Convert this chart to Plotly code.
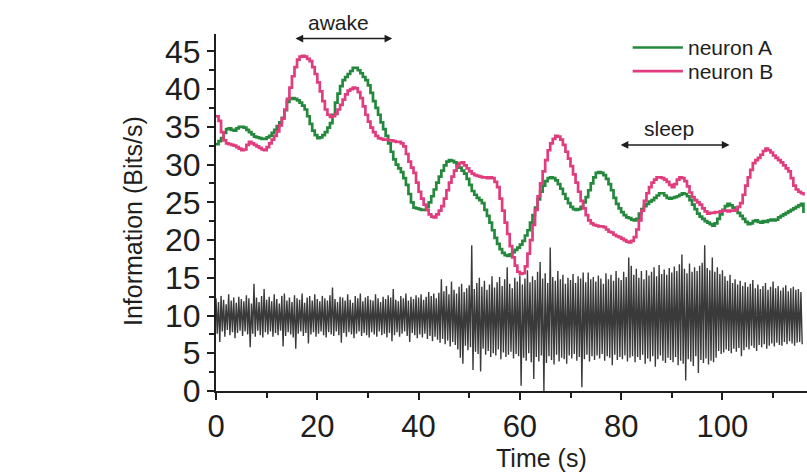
import numpy as np
import plotly.graph_objects as go

# ---- data -------------------------------------------------------------
DT = 0.5  # sampling step of the information traces (s)

neuron_a = [
    32.7, 33.1, 33.5, 34.2, 34.7, 34.8, 34.6, 34.5, 34.8, 35.0,
    35.0, 34.9, 34.6, 34.3, 34.0, 33.7, 33.6, 33.5, 33.4, 33.4,
    33.6, 33.8, 34.2, 34.6, 35.1, 35.6, 36.2, 37.2, 38.3, 38.7,
    38.8, 38.7, 38.5, 38.2, 37.8, 37.3, 36.4, 35.4, 34.5, 33.9,
    33.5, 33.6, 33.9, 34.3, 34.9, 35.5, 36.6, 38.2, 39.4, 40.4,
    41.2, 41.6, 42.0, 42.4, 42.8, 42.8, 42.5, 42.1, 41.6, 41.2,
    40.5, 39.5, 38.4, 37.5, 36.6, 35.6, 34.7, 33.8, 32.8, 31.7,
    30.7, 30.0, 29.5, 29.0, 28.2, 27.3, 26.1, 25.0, 24.3, 24.2,
    24.1, 24.0, 24.0, 24.4, 25.0, 25.8, 26.7, 27.6, 28.4, 29.2,
    29.9, 30.4, 30.6, 30.5, 30.3, 30.0, 29.6, 29.2, 28.8, 28.1,
    27.3, 26.5, 26.0, 25.6, 25.3, 24.9, 24.0, 23.2, 22.3, 21.3,
    20.3, 19.5, 18.8, 18.3, 18.0, 17.9, 18.1, 18.4, 18.7, 19.0,
    19.4, 19.9, 20.6, 21.3, 22.3, 23.3, 24.3, 25.4, 26.4, 27.2,
    27.8, 28.2, 28.3, 28.2, 27.9, 27.4, 26.8, 26.1, 25.5, 24.9,
    24.4, 24.1, 24.0, 24.1, 24.4, 25.0, 25.7, 26.6, 27.5, 28.3,
    28.9, 29.0, 28.9, 28.6, 28.1, 27.4, 26.6, 25.6, 24.8, 24.2,
    23.7, 23.3, 23.0, 22.9, 22.7, 22.6, 22.8, 23.5, 24.1, 24.5,
    24.8, 25.1, 25.3, 25.6, 25.9, 26.2, 26.2, 25.9, 25.6, 25.5,
    25.6, 25.7, 25.8, 26.0, 26.2, 26.1, 25.8, 25.3, 24.7, 24.1,
    23.5, 23.1, 22.8, 22.5, 22.3, 22.1, 21.9, 22.2, 22.8, 23.4,
    24.0, 24.5, 24.8, 24.6, 24.3, 24.0, 23.6, 23.2, 22.8, 22.4,
    22.1, 22.2, 22.5, 22.6, 22.4, 22.3, 22.5, 22.4, 22.6, 22.7,
    22.6, 22.7, 23.0, 23.2, 23.4, 23.6, 23.8, 24.0, 24.2, 24.4,
    24.6, 24.8, 23.6,
]

neuron_b = [
    36.4, 35.8, 34.3, 33.2, 32.8, 32.7, 32.6, 32.5, 32.3, 32.1,
    31.9, 32.0, 32.6, 33.0, 32.8, 32.6, 32.4, 32.2, 32.0, 31.9,
    32.3, 32.8, 33.3, 33.8, 34.4, 35.2, 36.1, 37.3, 38.7, 40.2,
    41.7, 42.9, 43.9, 44.3, 44.4, 44.3, 44.0, 43.7, 42.9, 42.0,
    40.9, 39.7, 38.4, 37.3, 36.6, 36.3, 36.4, 36.7, 37.3, 37.9,
    38.6, 39.3, 39.8, 40.0, 40.2, 40.1, 39.6, 38.8, 37.7, 36.6,
    35.7, 34.9, 34.3, 33.8, 33.5, 33.4, 33.3, 33.3, 33.2, 33.2,
    33.1, 33.0, 33.0, 32.8, 32.4, 31.4, 30.4, 29.6, 28.9, 27.6,
    26.4, 25.5, 24.7, 24.0, 23.4, 23.1, 23.0, 23.4, 23.9, 24.5,
    25.5, 26.6, 27.6, 28.4, 29.2, 29.8, 30.2, 30.3, 29.9, 29.5,
    29.1, 28.8, 28.6, 28.5, 28.4, 28.3, 28.3, 28.2, 28.3, 28.2,
    27.7, 27.0, 25.5, 23.9, 22.3, 20.8, 19.2, 17.7, 16.6, 15.8,
    15.5, 15.6, 16.5, 18.2, 20.0, 22.0, 24.0, 25.8, 27.5, 29.1,
    30.6, 31.9, 32.8, 33.4, 33.8, 33.7, 33.3, 32.6, 31.7, 30.8,
    29.8, 28.7, 27.6, 26.4, 25.2, 24.2, 23.3, 22.6, 22.2, 22.0,
    21.9, 21.8, 21.8, 21.7, 21.4, 21.1, 21.0, 20.7, 20.5, 20.4,
    20.2, 20.0, 19.8, 19.7, 19.9, 20.4, 21.4, 22.6, 23.9, 25.2,
    26.2, 27.0, 27.6, 28.0, 28.3, 28.3, 28.2, 28.0, 27.7, 27.3,
    27.0, 27.4, 28.0, 28.3, 28.2, 27.8, 27.1, 26.3, 25.7, 25.3,
    25.0, 24.7, 24.2, 23.8, 23.5, 23.6, 23.6, 23.7, 23.7, 23.8,
    23.9, 23.9, 23.8, 23.9, 23.9, 24.0, 24.4, 24.9, 26.0, 27.2,
    28.3, 29.3, 30.2, 30.6, 30.9, 31.3, 31.8, 32.1, 31.9, 31.6,
    31.2, 30.9, 30.6, 30.3, 29.9, 29.5, 29.1, 28.2, 27.2, 26.7,
    26.4, 26.2, 25.9,
]

# EEG trace: successive upper / lower excursions every half second
eeg_high = [
    12.3, 11.8, 12.6, 12.1, 11.5, 12.8, 12.0, 12.4, 11.7, 12.5,
    12.2, 11.9, 12.7, 12.3, 11.6, 14.2, 12.4, 11.8, 12.6, 13.5,
    12.1, 12.5, 11.9, 12.8, 12.2, 11.6, 12.6, 12.9, 12.0, 12.4,
    11.8, 12.7, 12.3, 12.1, 12.9, 11.7, 12.4, 12.6, 12.0, 12.8,
    12.2, 11.9, 12.6, 12.3, 12.0, 12.7, 13.7, 12.2, 11.8, 12.5,
    12.4, 12.0, 12.8, 12.1, 11.7, 12.6, 12.3, 12.9, 11.9, 12.4,
    12.6, 12.1, 12.0, 12.8, 12.3, 11.8, 12.5, 12.2, 12.7, 12.4,
    13.5, 12.1, 11.9, 12.6, 12.3, 12.9, 12.0, 12.5, 12.2, 12.7,
    12.4, 12.8, 12.1, 12.5, 13.1, 12.6, 12.9, 12.3, 13.0, 14.8,
    13.2, 13.9, 12.8, 14.5, 13.4, 12.9, 13.8, 14.2, 13.1, 13.6,
    14.0, 19.3, 13.5, 14.3, 15.0, 13.8, 14.6, 13.4, 14.1, 15.2,
    13.7, 14.4, 15.1, 13.9, 14.8, 16.4, 14.2, 13.6, 15.0, 14.5,
    15.3, 14.1, 14.9, 16.0, 14.4, 15.2, 14.7, 15.8, 17.1, 14.9,
    15.6, 14.3, 19.0, 15.1, 14.6, 15.9, 14.8, 15.4, 14.2, 15.0,
    14.7, 15.5, 14.3, 15.2, 14.9, 15.7, 14.4, 15.7, 14.8, 15.1,
    14.5, 15.3, 14.9, 14.2, 15.6, 14.8, 15.4, 14.6, 15.9, 15.0,
    14.7, 15.8, 15.1, 17.7, 16.6, 15.4, 16.2, 15.0, 15.9, 14.8,
    16.0, 15.3, 15.8, 16.4, 15.2, 16.7, 15.5, 16.1, 15.4, 16.3,
    15.7, 16.5, 15.9, 16.8, 18.1, 16.2, 15.6, 16.9, 15.8, 16.4,
    15.9, 16.6, 17.0, 19.3, 16.3, 16.0, 17.7, 15.8, 16.4, 15.5,
    16.0, 15.2, 14.6, 15.4, 14.3, 14.8, 14.1, 14.6, 13.9, 14.4,
    13.8, 14.2, 14.7, 13.6, 14.1, 13.5, 13.9, 14.3, 13.4, 13.8,
    14.5, 13.6, 13.9, 13.3, 13.7, 14.0, 13.2, 13.6, 13.8, 13.4,
    13.5, 13.1,
]

eeg_low = [
    7.6, 6.5, 7.9, 7.2, 8.1, 7.4, 7.8, 7.0, 7.7, 8.0,
    7.3, 7.9, 7.5, 5.8, 7.6, 7.2, 8.0, 7.4, 7.1, 7.8,
    7.5, 7.9, 7.2, 7.7, 7.4, 8.0, 5.9, 7.3, 7.8, 7.5,
    7.1, 5.6, 7.6, 7.9, 7.3, 7.7, 6.3, 7.5, 7.8, 7.2,
    7.6, 7.9, 7.4, 7.1, 7.8, 7.5, 7.3, 7.9, 7.4, 6.4,
    7.7, 7.2, 7.8, 7.5, 7.0, 7.6, 7.9, 7.3, 7.7, 7.4,
    7.1, 7.8, 7.5, 7.2, 7.9, 7.4, 7.6, 7.1, 7.7, 6.6,
    7.4, 7.8, 7.2, 7.6, 7.9, 7.3, 6.5, 7.7, 7.4, 7.0,
    7.5, 7.1, 7.6, 6.9, 7.3, 6.6, 7.2, 6.8, 6.4, 6.9,
    6.2, 6.7, 5.9, 6.5, 6.1, 5.5, 4.4, 3.6, 6.0, 5.4,
    5.8, 2.8, 5.2, 4.9, 2.6, 5.6, 4.8, 5.3, 4.5, 5.0,
    4.7, 5.5, 4.2, 5.1, 4.5, 4.8, 5.2, 4.3, 4.9, 4.6,
    0.7, 4.4, 4.0, 5.0, 3.8, 1.6, 4.5, 3.9, 4.7, 0.0,
    3.7, 4.6, 4.1, 3.5, 4.8, 3.9, 4.4, 4.2, 3.6, 4.7,
    4.3, 4.9, 4.0, 4.5, 0.5, 4.2, 4.8, 3.9, 4.6, 4.1,
    4.7, 4.3, 4.9, 4.0, 4.6, 4.4, 3.4, 4.8, 4.1, 4.5,
    4.2, 4.7, 3.9, 4.4, 4.6, 3.8, 4.5, 4.1, 4.8, 3.6,
    4.3, 3.9, 4.6, 3.2, 4.2, 4.7, 4.0, 3.7, 4.4, 4.1,
    3.8, 4.5, 3.4, 4.0, 3.6, 1.4, 4.2, 3.9, 3.3, 4.6,
    2.4, 4.1, 3.7, 4.3, 3.5, 4.0, 3.8, 4.4, 5.3, 4.9,
    5.1, 5.5, 5.3, 5.0, 5.6, 5.2, 5.7, 4.6, 5.4, 5.8,
    5.5, 6.0, 5.7, 5.3, 6.1, 5.8, 6.2, 5.6, 6.0, 6.3,
    5.9, 6.4, 6.1, 6.0, 6.5, 6.2, 6.6, 6.3, 6.0, 6.4,
    6.5, 6.2,
]

x_ticks = [0, 20, 40, 60, 80, 100, 120]
y_ticks = [0, 5, 10, 15, 20, 25, 30, 35, 40, 45]

series_names = ["neuron A", "neuron B"]
series_colors = ["#24893d", "#e03c7e"]

# ---- build traces -----------------------------------------------------
t_info = np.arange(len(neuron_a)) * DT

t_eeg, v_eeg = [], []
for i, (hi, lo) in enumerate(zip(eeg_high, eeg_low)):
    t_eeg += [i * DT, i * DT + DT / 2]
    v_eeg += [hi, lo]

FONT = "Liberation Sans, Arial, sans-serif"
INK = "#1e1e1e"

fig = go.Figure()
fig.add_trace(go.Scatter(
    x=t_eeg, y=v_eeg, mode="lines",
    line=dict(color="#3a3a3a", width=1.4),
    showlegend=False, hoverinfo="skip",
))
for vals, name, col in zip([neuron_a, neuron_b], series_names, series_colors):
    fig.add_trace(go.Scatter(
        x=t_info, y=vals, mode="lines", name=name,
        line=dict(color=col, width=2.7, shape="hv"),
        showlegend=False,
    ))

# legend drawn as short line keys beside the series names
for k, (name, col) in enumerate(zip(series_names, series_colors)):
    yk = 0.962 - k * 0.066
    fig.add_shape(type="line", xref="paper", yref="paper",
                  x0=0.705, x1=0.790, y0=yk, y1=yk,
                  line=dict(color=col, width=2.6))
    fig.add_annotation(xref="paper", yref="paper", x=0.795, y=yk,
                       text=name, showarrow=False, xanchor="left",
                       yanchor="middle",
                       font=dict(family=FONT, size=21, color=INK))

# state markers: double-headed arrows with labels above them
states = [("awake", 15.4, 34.8, 46.7), ("sleep", 79.6, 101.4, 32.6)]
for label, x0, x1, yv in states:
    fig.add_annotation(x=x1, y=yv, ax=x0, ay=yv, axref="x", ayref="y",
                       text="", showarrow=True, arrowhead=2,
                       arrowside="end+start", arrowsize=1.1, arrowwidth=1.4,
                       arrowcolor=INK, standoff=0, startstandoff=0)
    fig.add_annotation(x=(x0 + x1) / 2 - 1, y=yv, yshift=16, text=label,
                       showarrow=False, yanchor="middle",
                       font=dict(family=FONT, size=21, color=INK))

# axis titles
fig.add_annotation(xref="paper", yref="paper", x=0.5516, y=0, yshift=-67,
                   text="Time (s)", showarrow=False, yanchor="middle",
                   font=dict(family=FONT, size=25, color=INK))
fig.add_annotation(xref="paper", yref="paper", x=0, xshift=-83, y=0.476,
                   text="Information (Bits/s)", showarrow=False,
                   textangle=-90, xanchor="center", yanchor="middle",
                   font=dict(family=FONT, size=25, color=INK))

axis_common = dict(
    showgrid=False, zeroline=False, showline=True, linecolor=INK,
    linewidth=2, ticks="outside", tickcolor=INK, tickwidth=2,
    ticklen=7,
)

fig.update_xaxes(range=[0, 116.7], tickvals=x_ticks,
                 tickfont=dict(family=FONT, size=31, color=INK),
                 minor=dict(dtick=10, tick0=0, ticks="outside", ticklen=5,
                            tickwidth=2, tickcolor=INK),
                 **axis_common)
fig.update_yaxes(range=[0, 47.3], tickvals=y_ticks,
                 tickfont=dict(family=FONT, size=32, color=INK),
                 minor=dict(dtick=2.5, tick0=0, ticks="outside", ticklen=5,
                            tickwidth=1.5, tickcolor=INK),
                 **axis_common)

fig.update_layout(
    width=807, height=472, autosize=False,
    margin=dict(l=216, r=0, t=34, b=81, pad=0),
    plot_bgcolor="white", paper_bgcolor="white",
    font=dict(family=FONT, color=INK),
)

fig.write_html("out.html")
